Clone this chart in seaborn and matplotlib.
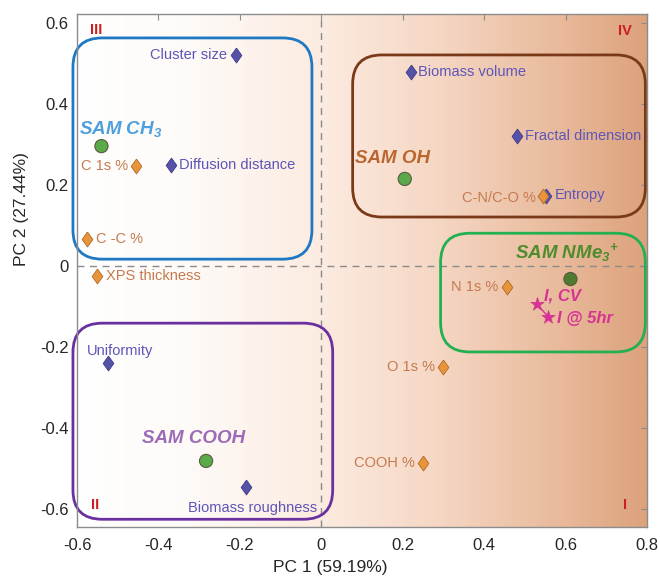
import matplotlib
matplotlib.use('Agg')
import matplotlib.pyplot as plt
from matplotlib.colors import LinearSegmentedColormap
from matplotlib.patches import FancyBboxPatch
import numpy as np
import pandas as pd
import seaborn as sns

# loadings: biofilm / morphology variables (purple diamonds)
var_names = ['Cluster size', 'Diffusion distance', 'Biomass volume', 'Fractal dimension',
             'Entropy', 'Uniformity', 'Biomass roughness']
var_x = [-0.21, -0.37, 0.22, 0.48, 0.552, -0.525, -0.185]
var_y = [0.52, 0.25, 0.48, 0.32, 0.172, -0.24, -0.545]

# loadings: XPS variables (orange diamonds)
xps_names = ['C 1s %', 'C -C %', 'XPS thickness', 'C-N/C-O %', 'N 1s %', 'O 1s %', 'COOH %']
xps_x = [-0.455, -0.575, -0.55, 0.545, 0.455, 0.30, 0.25]
xps_y = [0.248, 0.066, -0.025, 0.172, -0.052, -0.248, -0.486]

# scores: surfaces (green circles)
sam_names = ['SAM CH$_3$', 'SAM OH', 'SAM NMe$_3$$^{+}$', 'SAM COOH']
sam_x = [-0.54, 0.205, 0.612, -0.283]
sam_y = [0.296, 0.215, -0.032, -0.481]

# iodine samples (magenta stars)
iod_names = ['I, CV', 'I @ 5hr']
iod_x = [0.53, 0.558]
iod_y = [-0.094, -0.126]

quad_names = ['III', 'IV', 'II', 'I']

# label placement (offset in points, horizontal alignment)
var_lab = [(-6, 0, 'right'), (6, 0, 'left'), (5, 0, 'left'), (6, 0, 'left'),
           (6, 1, 'left'), (-15, 9, 'left'), (5, -15, 'center')]
xps_lab = [(-6, 0, 'right'), (6, 0, 'left'), (6, 0, 'left'), (-5, -1, 'right'),
           (-6, 0, 'right'), (-6, 0, 'right'), (-6, 0, 'right')]
sam_lab = [(-16, 12, 'left'), (-36, 15, 'left'), (35, 19, 'right'), (-46, 16, 'left')]
sam_col = ['#4da0dd', '#bb6630', '#4e8c2c', '#9b6ab8']
quad_pos = [(-0.552, 0.583), (0.745, 0.58), (-0.556, -0.59), (0.745, -0.59)]

# diamond marker a bit wider than matplotlib's thin 'd'
diamond = [(0, 1), (0.72, 0), (0, -1), (-0.72, 0), (0, 1)]

sns.set_style('white')
plt.rcParams['font.family'] = ['Liberation Sans', 'DejaVu Sans']
plt.rcParams['mathtext.fontset'] = 'custom'
plt.rcParams['mathtext.it'] = 'Liberation Sans:italic:bold'
plt.rcParams['mathtext.rm'] = 'Liberation Sans:italic:bold'

fig = plt.figure(figsize=(6.6, 5.77), dpi=100)
ax = fig.add_axes([0.1167, 0.0867, 0.8636, 0.889])
xlim = (-0.6, 0.8)
ylim = (-0.644, 0.622)

# background gradient
bg = LinearSegmentedColormap.from_list('bg', [
    (0.0, '#ffffff'), (0.2, '#fefaf7'), (0.43, '#fcebe0'),
    (0.64, '#f5d6c3'), (0.86, '#e8b899'), (1.0, '#dca27c')])
ax.imshow(np.linspace(0, 1, 256)[None, :], cmap=bg, aspect='auto',
          extent=(xlim[0], xlim[1], ylim[0], ylim[1]), zorder=0)

ax.axhline(0, color='#8a8a8a', ls=(0, (5, 4)), lw=1, zorder=1)
ax.axvline(0, color='#8a8a8a', ls=(0, (5, 4)), lw=1, zorder=1)

# rounded group boxes
r = 0.072
for x0, y0, x1, y1, c in [(-0.61, 0.017, -0.023, 0.563, '#1f78c4'),
                          (0.077, 0.121, 0.796, 0.521, '#7a3a1a'),
                          (0.293, -0.212, 0.796, 0.081, '#22b050'),
                          (-0.61, -0.625, 0.028, -0.141, '#6a30a0')]:
    ax.add_patch(FancyBboxPatch((x0 + r, y0 + r), x1 - x0 - 2 * r, y1 - y0 - 2 * r,
                                boxstyle=f'round,pad={r}', fc='none', ec=c, lw=2,
                                clip_on=False, zorder=2))

var_df = pd.DataFrame({'x': var_x, 'y': var_y, 'name': var_names})
xps_df = pd.DataFrame({'x': xps_x, 'y': xps_y, 'name': xps_names})
sam_df = pd.DataFrame({'x': sam_x, 'y': sam_y, 'name': sam_names})
iod_df = pd.DataFrame({'x': iod_x, 'y': iod_y, 'name': iod_names})

sns.scatterplot(data=var_df, x='x', y='y', marker=diamond, s=115, color='#5552a8',
                edgecolor='#3f3c8c', linewidth=0.6, ax=ax, zorder=4)
sns.scatterplot(data=xps_df, x='x', y='y', marker=diamond, s=115, color='#e8943a',
                edgecolor='#b06a28', linewidth=0.6, ax=ax, zorder=4)
sns.scatterplot(data=sam_df, x='x', y='y', marker='o', s=90,
                color=['#5aaa4a', '#5aaa4a', '#4f7a2f', '#5aaa4a'],
                edgecolor='#5a5a40', linewidth=0.8, ax=ax, zorder=4)
ax.plot(iod_df.x, iod_df.y, color='#d63392', lw=1, zorder=3)
sns.scatterplot(data=iod_df, x='x', y='y', marker='*', s=100, color='#d63392',
                edgecolor='#d63392', linewidth=0.5, ax=ax, zorder=4)

for (nm, x, y), (dx, dy, ha) in zip(zip(var_names, var_x, var_y), var_lab):
    ax.annotate(nm, (x, y), xytext=(dx, dy), textcoords='offset points', ha=ha,
                va='center', fontsize=10.5, color='#5e55b8', zorder=5)
for (nm, x, y), (dx, dy, ha) in zip(zip(xps_names, xps_x, xps_y), xps_lab):
    ax.annotate(nm, (x, y), xytext=(dx, dy), textcoords='offset points', ha=ha,
                va='center', fontsize=10.5, color='#c47a50', zorder=5)
for (nm, x, y), (dx, dy, ha), c in zip(zip(sam_names, sam_x, sam_y), sam_lab, sam_col):
    ax.annotate(nm, (x, y), xytext=(dx, dy), textcoords='offset points', ha=ha,
                va='center', fontsize=13.5, color=c, fontweight='bold',
                fontstyle='italic', zorder=5)
for nm, x, y, off in zip(iod_names, iod_x, iod_y, [(5, 6), (6, -1)]):
    ax.annotate(nm, (x, y), xytext=off, textcoords='offset points', ha='left',
                va='center', fontsize=12, color='#d63392', fontweight='bold',
                fontstyle='italic', zorder=5)
for q, (x, y) in zip(quad_names, quad_pos):
    ax.text(x, y, q, color='#cc1f1f', fontsize=10.5, fontweight='bold',
            ha='center', va='center', zorder=5)

ax.set_xlim(xlim)
ax.set_ylim(ylim)
ax.set_xticks([-0.6, -0.4, -0.2, 0, 0.2, 0.4, 0.6, 0.8])
ax.set_xticklabels(['-0.6', '-0.4', '-0.2', '0', '0.2', '0.4', '0.6', '0.8'])
ax.set_yticks([-0.6, -0.4, -0.2, 0, 0.2, 0.4, 0.6])
ax.set_yticklabels(['-0.6', '-0.4', '-0.2', '0', '0.2', '0.4', '0.6'])
ax.tick_params(direction='in', length=4, width=0.8, color='#8c8c8c', labelsize=12,
               top=True, right=True, labelcolor='#262626')
ax.tick_params(axis='x', pad=8)
ax.tick_params(axis='y', pad=6)
for s in ax.spines.values():
    s.set_color('#8c8c8c')
    s.set_linewidth(1)
ax.set_xlabel('PC 1 (59.19%)', fontsize=12.5, color='#262626')
ax.set_ylabel('PC 2 (27.44%)', fontsize=12.5, color='#262626')
ax.xaxis.set_label_coords(0.444, -0.064)
ax.yaxis.set_label_coords(-0.085, 0.62)

fig.savefig('out.png', dpi=100)
